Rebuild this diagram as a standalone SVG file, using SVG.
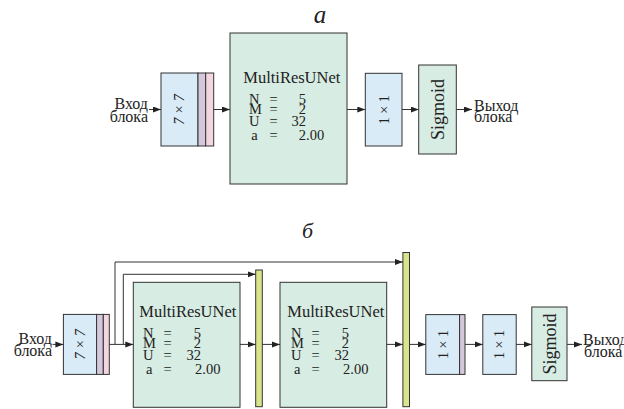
<svg xmlns="http://www.w3.org/2000/svg" width="624" height="409" viewBox="0 0 624 409">
  <style>
    .box { stroke: #333; stroke-width: 1; }
    .conv { fill: #d8ebf7; }
    .bn { fill: #d6c8dc; }
    .act { fill: #f2d6e0; }
    .unet { fill: #d7ece2; }
    .cat { fill: #d9e48c; }
    .sig { fill: #d7ece2; }
    .wire { fill: none; stroke: #333; stroke-width: 1; }
    text { font-family: "Liberation Serif", "Times New Roman", serif; fill: #222; }
    .lbl { font-size: 16px; }
    .ttl { font-size: 16px; }
    .prm { font-size: 14.5px; }
    .cap { font-style: italic; font-size: 25px; text-anchor: middle; }
    .rot { font-size: 14px; text-anchor: middle; }
    .sgm { font-size: 18px; text-anchor: middle; }
  </style>
  <defs>
    <marker id="arrow" markerUnits="userSpaceOnUse" markerWidth="9" markerHeight="7" refX="8" refY="3" orient="auto">
      <path d="M0,0 L8,3 L0,6 Z" fill="#222"/>
    </marker>
  </defs>

  <!-- panel captions -->
  <text class="cap" x="320" y="23">a</text>
  <text class="cap" x="307.5" y="238" style="font-size:22px">б</text>

  <!-- ===== panel a ===== -->
  <g id="a-in">
    <text class="lbl" x="148" y="109" text-anchor="end">Вход</text>
    <text class="lbl" x="148" y="122" text-anchor="end">блока</text>
  </g>
  <g id="a-conv7">
    <rect class="box conv" x="161" y="73" width="37" height="73"/>
    <rect class="box bn" x="198" y="73" width="7.7" height="73"/>
    <rect class="box act" x="205.7" y="73" width="8" height="73"/>
    <text class="rot" font-style="italic" transform="translate(184,109.5) rotate(-90)">7 × 7</text>
  </g>
  <g id="a-unet">
    <rect class="box unet" x="230" y="33" width="117" height="151"/>
    <text class="ttl" x="243.3" y="83.3" textLength="97" lengthAdjust="spacingAndGlyphs">MultiResUNet</text>
    <text class="prm" x="249" y="103.8">N</text>
    <text class="prm" x="269.5" y="103.8">=</text>
    <text class="prm" x="306" y="103.8" text-anchor="end">5</text>
    <text class="prm" x="249" y="113.8">M</text>
    <text class="prm" x="269.5" y="113.8">=</text>
    <text class="prm" x="306" y="113.8" text-anchor="end">2</text>
    <text class="prm" x="249" y="126.3">U</text>
    <text class="prm" x="269.5" y="126.3">=</text>
    <text class="prm" x="306" y="126.3" text-anchor="end">32</text>
    <text class="prm" x="251.3" y="139.6">a</text>
    <text class="prm" x="269.5" y="139.6">=</text>
    <text class="prm" x="298.8" y="139.6">2.00</text>
  </g>
  <g id="a-conv1">
    <rect class="box conv" x="365.3" y="73.3" width="36.7" height="72.7"/>
    <text class="rot" transform="translate(388.5,109.7) rotate(-90)">1 × 1</text>
  </g>
  <g id="a-sigmoid">
    <rect class="box sig" x="418.7" y="65" width="37.6" height="89"/>
    <text class="sgm" transform="translate(443.5,109.5) rotate(-90)">Sigmoid</text>
  </g>
  <g id="a-out">
    <text class="lbl" x="474" y="110.5">Выход</text>
    <text class="lbl" x="474" y="122">блока</text>
  </g>

  <!-- ===== panel б ===== -->
  <g id="b-in">
    <text class="lbl" x="52" y="343.5" text-anchor="end">Вход</text>
    <text class="lbl" x="52" y="355.5" text-anchor="end">блока</text>
  </g>
  <g id="b-conv7">
    <rect class="box conv" x="63.4" y="314.4" width="33.2" height="60"/>
    <rect class="box bn" x="96.6" y="314.4" width="6.7" height="60"/>
    <rect class="box act" x="103.3" y="314.4" width="6" height="60"/>
    <text class="rot" font-style="italic" transform="translate(85,344.4) rotate(-90)">7 × 7</text>
  </g>
  <g id="b-unet1">
    <rect class="box unet" x="133.3" y="282.3" width="106.7" height="125"/>
    <text class="ttl" x="139.3" y="317.3" textLength="97" lengthAdjust="spacingAndGlyphs">MultiResUNet</text>
    <text class="prm" x="143" y="337.8">N</text>
    <text class="prm" x="163.5" y="337.8">=</text>
    <text class="prm" x="201" y="337.8" text-anchor="end">5</text>
    <text class="prm" x="143" y="347.8">M</text>
    <text class="prm" x="163.5" y="347.8">=</text>
    <text class="prm" x="201" y="347.8" text-anchor="end">2</text>
    <text class="prm" x="143" y="360.3">U</text>
    <text class="prm" x="163.5" y="360.3">=</text>
    <text class="prm" x="201" y="360.3" text-anchor="end">32</text>
    <text class="prm" x="146" y="373.6">a</text>
    <text class="prm" x="163.5" y="373.6">=</text>
    <text class="prm" x="195" y="373.6">2.00</text>
  </g>
  <g id="b-cat1">
    <rect class="box cat" x="255.7" y="270" width="6.6" height="136.7"/>
  </g>
  <g id="b-unet2">
    <rect class="box unet" x="280" y="282.3" width="106.7" height="125"/>
    <text class="ttl" x="287.3" y="317.3" textLength="97" lengthAdjust="spacingAndGlyphs">MultiResUNet</text>
    <text class="prm" x="291" y="337.8">N</text>
    <text class="prm" x="311.5" y="337.8">=</text>
    <text class="prm" x="349" y="337.8" text-anchor="end">5</text>
    <text class="prm" x="291" y="347.8">M</text>
    <text class="prm" x="311.5" y="347.8">=</text>
    <text class="prm" x="349" y="347.8" text-anchor="end">2</text>
    <text class="prm" x="291" y="360.3">U</text>
    <text class="prm" x="311.5" y="360.3">=</text>
    <text class="prm" x="349" y="360.3" text-anchor="end">32</text>
    <text class="prm" x="294" y="373.6">a</text>
    <text class="prm" x="311.5" y="373.6">=</text>
    <text class="prm" x="343" y="373.6">2.00</text>
  </g>
  <g id="b-cat2">
    <rect class="box cat" x="402.9" y="252.5" width="6.6" height="154.2"/>
  </g>
  <g id="b-conv1a">
    <rect class="box conv" x="425.8" y="314.6" width="33.8" height="59.8"/>
    <rect class="box bn" x="459.6" y="314.6" width="5.4" height="59.8"/>
    <text class="rot" transform="translate(447.5,344.5) rotate(-90)">1 × 1</text>
  </g>
  <g id="b-conv1b">
    <rect class="box conv" x="482.8" y="314.6" width="33.4" height="59.8"/>
    <text class="rot" transform="translate(504.3,344.5) rotate(-90)">1 × 1</text>
  </g>
  <g id="b-sigmoid">
    <rect class="box sig" x="531.8" y="307" width="35.2" height="73.7"/>
    <text class="sgm" transform="translate(555.6,344) rotate(-90)">Sigmoid</text>
  </g>
  <g id="b-out">
    <text class="lbl" x="583" y="345">Выход</text>
    <text class="lbl" x="584" y="356.5">блока</text>
  </g>

  <!-- connectors -->
  <g id="connectors" class="wire" marker-end="url(#arrow)">
    <!-- panel a -->
    <line x1="149" y1="109.5" x2="161" y2="109.5"/>
    <line x1="213.7" y1="109.5" x2="230" y2="109.5"/>
    <line x1="347" y1="109.5" x2="365.3" y2="109.5"/>
    <line x1="402" y1="109.5" x2="418.7" y2="109.5"/>
    <line x1="456.3" y1="109.5" x2="472" y2="109.5"/>
    <!-- panel б -->
    <line x1="52.5" y1="344.4" x2="63.4" y2="344.4"/>
    <line x1="109.3" y1="344.4" x2="133.3" y2="344.4"/>
    <polyline points="115,344.4 115,262 402.9,262"/>
    <polyline points="123.3,344.4 123.3,274.3 255.7,274.3"/>
    <line x1="240" y1="344.4" x2="255.7" y2="344.4"/>
    <line x1="262.3" y1="344.4" x2="280" y2="344.4"/>
    <line x1="386.7" y1="344.4" x2="402.9" y2="344.4"/>
    <line x1="409.5" y1="344.4" x2="425.8" y2="344.4"/>
    <line x1="465" y1="344.4" x2="482.8" y2="344.4"/>
    <line x1="516.2" y1="344.4" x2="531.8" y2="344.4"/>
    <line x1="567" y1="344.4" x2="582" y2="344.4"/>
  </g>
</svg>
